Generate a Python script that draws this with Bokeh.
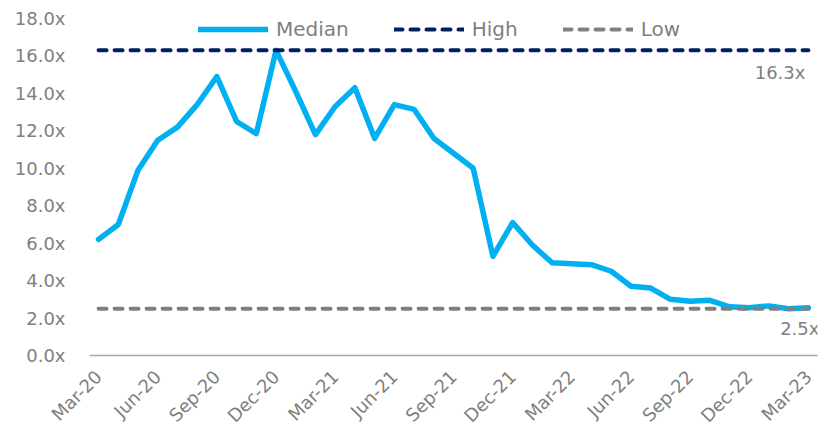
import math
from bokeh.plotting import figure
from bokeh.models import Range1d, FixedTicker, PrintfTickFormatter, Legend, LegendItem, Label
from bokeh.embed import file_html
from bokeh.resources import INLINE

months = ["Mar-20", "Apr-20", "May-20", "Jun-20", "Jul-20", "Aug-20", "Sep-20", "Oct-20", "Nov-20",
          "Dec-20", "Jan-21", "Feb-21", "Mar-21", "Apr-21", "May-21", "Jun-21", "Jul-21", "Aug-21",
          "Sep-21", "Oct-21", "Nov-21", "Dec-21", "Jan-22", "Feb-22", "Mar-22", "Apr-22", "May-22",
          "Jun-22", "Jul-22", "Aug-22", "Sep-22", "Oct-22", "Nov-22", "Dec-22", "Jan-23", "Feb-23",
          "Mar-23"]
median = [6.2, 7.0, 9.9, 11.5, 12.2, 13.4, 14.9, 12.5, 11.85, 16.3, 14.1, 11.8, 13.3, 14.3, 11.6,
          13.4, 13.15, 11.6, 10.8, 10.0, 5.3, 7.1, 5.9, 4.95, 4.9, 4.85, 4.5, 3.7, 3.6, 3.0, 2.9,
          2.95, 2.6, 2.55, 2.65, 2.5, 2.55]
high_value = 16.3
low_value = 2.5
y_ticks = [0, 2, 4, 6, 8, 10, 12, 14, 16, 18]

idx = list(range(len(months)))
high = [high_value] * len(months)
low = [low_value] * len(months)

FONT = "DejaVu Sans"
GRAY = "#7f7f7f"

p = figure(width=829, height=436, output_backend="svg", toolbar_location=None,
           x_range=Range1d(-0.46, len(months) - 1 + 0.46), y_range=Range1d(0, 18),
           min_border_left=89, min_border_right=12, min_border_top=18, min_border_bottom=78)
p.outline_line_color = None
p.xgrid.visible = False
p.ygrid.visible = False

r_med = p.line(idx, median, line_color="#00B0F0", line_width=5.5, line_join="round", line_cap="round")
r_high = p.line(idx, high, line_color="#002060", line_width=4, line_dash="8 8", line_cap="round")
r_low = p.line(idx, low, line_color="#808080", line_width=4, line_dash="8 8", line_cap="round")

# x axis
xa = p.xaxis[0]
xa.ticker = FixedTicker(ticks=idx[::3])
xa.major_label_overrides = {i: months[i] for i in idx[::3]}
xa.major_label_orientation = math.pi / 4
xa.axis_line_color = "#A5A8BA"
xa.axis_line_width = 1.5
xa.major_tick_line_color = None
xa.minor_tick_line_color = None
xa.major_label_text_font = FONT
xa.major_label_text_font_size = "18px"
xa.major_label_text_color = GRAY
xa.major_label_standoff = 12

ya = p.yaxis[0]
ya.ticker = FixedTicker(ticks=y_ticks)
ya.formatter = PrintfTickFormatter(format="%.1fx")
ya.axis_line_color = None
ya.major_tick_line_color = None
ya.minor_tick_line_color = None
ya.major_label_text_font = FONT
ya.major_label_text_font_size = "18px"
ya.major_label_text_color = GRAY
ya.major_label_standoff = 18

legend = Legend(items=[LegendItem(label="Median", renderers=[r_med]),
                       LegendItem(label="High", renderers=[r_high]),
                       LegendItem(label="Low", renderers=[r_low])],
                orientation="horizontal", location=(109, 314),
                glyph_width=70, glyph_height=20, label_standoff=8, spacing=45,
                padding=0, margin=0,
                background_fill_alpha=0, border_line_color=None,
                label_text_font=FONT, label_text_font_size="20px", label_text_color=GRAY)
p.add_layout(legend, "center")

p.add_layout(Label(x=idx[-1], y=high_value, text=f"{high_value}x", text_align="right",
                   text_baseline="top", y_offset=-12, x_offset=-3, text_font=FONT,
                   text_font_size="18px", text_color=GRAY))
p.add_layout(Label(x=idx[-1], y=low_value, text=f"{low_value}x", text_align="right",
                   text_baseline="top", y_offset=-9, x_offset=11, text_font=FONT,
                   text_font_size="18px", text_color=GRAY))

open("out.html", "w").write(file_html(p, INLINE))
